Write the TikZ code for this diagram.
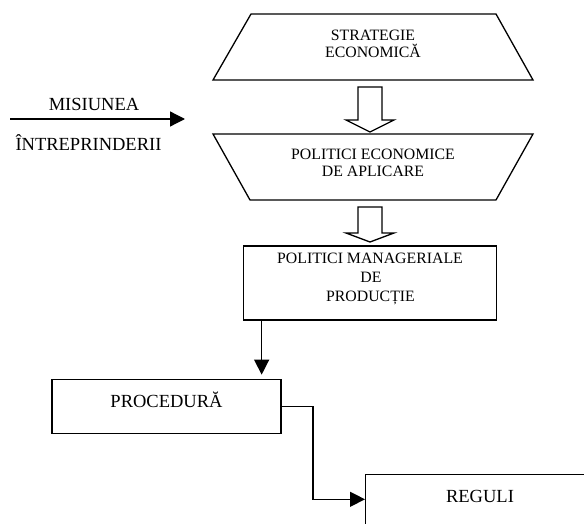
\documentclass[tikz,border=0pt]{standalone}
\usepackage{fontspec}
\setmainfont{Liberation Serif}
\usetikzlibrary{arrows.meta}
\begin{document}
\begin{tikzpicture}[x=1pt,y=-1pt,
  shapeline/.style={draw=black, line width=1.3pt, line join=miter},
  boxnode/.style={draw=black, line width=1.3pt, rectangle, inner sep=0pt},
  smalltxt/.style={font=\fontsize{15.8}{17}\selectfont, inner sep=0pt, anchor=base},
  bigtxt/.style={font=\fontsize{18.5}{20}\selectfont, inner sep=0pt, anchor=base},
  conn/.style={draw=black, line width=1.3pt, -{Triangle[length=15pt,width=15pt]}},
  hollow/.style={draw=black, line width=1.3pt, fill=white, line join=miter}]
\useasboundingbox (0,0) rectangle (584,524);
\clip (0,0) rectangle (584,524);

% top trapezoid
\draw[shapeline] (251,14) -- (496,14) -- (533,80) -- (213,80) -- cycle;
\node[smalltxt] (t1a) at (373,41) {STRATEGIE};
\node[smalltxt] (t1b) at (373,57.3) {ECONOMICĂ};

% second (inverted) trapezoid
\draw[shapeline] (213,134) -- (533,134) -- (496,200) -- (250,200) -- cycle;
\node[smalltxt] (t2a) at (373,160) {POLITICI ECONOMICE};
\node[smalltxt] (t2b) at (373,176.7) {DE APLICARE};

% hollow arrows
\draw[hollow] (358,87) -- (382,87) -- (382,120) -- (394,120) -- (370,132) -- (346,120) -- (358,120) -- cycle;
\draw[hollow] (358,207) -- (382,207) -- (382,233) -- (394,233) -- (370,242) -- (346,233) -- (358,233) -- cycle;

% box 3
\node[boxnode, minimum width=253.4pt, minimum height=74pt] (b3) at (370,283) {};
\node[smalltxt] (t3a) at (370,263.3) {POLITICI MANAGERIALE};
\node[smalltxt] (t3b) at (371,282.5) {DE};
\node[smalltxt] (t3c) at (370.5,301.5) {PRODUCȚIE};

% procedura
\node[boxnode, minimum width=229pt, minimum height=54pt] (pr) at (166.5,406.3) {};
\node[bigtxt] (prt) at (166.5,407) {PROCEDURĂ};

% reguli
\node[boxnode, anchor=north west, minimum width=230pt, minimum height=60pt] (rg) at (365,474) {};
\node[bigtxt] (rgt) at (480,502.7) {REGULI};

% connectors
\draw[conn, shorten >=4pt] ([xshift=19pt]b3.south west) -- ([xshift=19pt]b3.south west |- pr.north);
\coordinate (elb) at (313,499.3);
\draw[conn] (pr.east) -| (elb) -- (elb -| rg.west);

% misiunea
\coordinate (m0) at (10,119);
\coordinate (m1) at (185,119);
\draw[conn] (m0) -- (m1);
\node[bigtxt] (mis) at (94,110.7) {MISIUNEA};
\node[bigtxt] (intr) at (88.5,150.7) {ÎNTREPRINDERII};
\end{tikzpicture}
\end{document}
